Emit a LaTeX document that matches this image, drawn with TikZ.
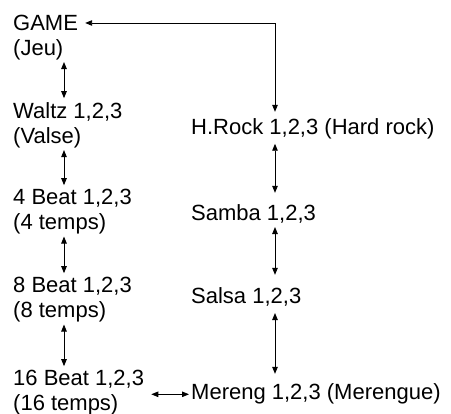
\documentclass[tikz,border=0pt]{standalone}
\usepackage{fontspec}
\setmainfont{Liberation Sans}
\usetikzlibrary{arrows.meta}

\begin{document}
\begin{tikzpicture}[x=1pt,y=1pt,
    dance/.style={inner sep=0pt,align=left,font=\fontsize{22}{25}\selectfont},
    link/.style={{Triangle[length=7pt,width=5.5pt]}-{Triangle[length=7pt,width=5.5pt]},line width=0.9pt}]
  \useasboundingbox (0,0) rectangle (451,414);
  \coordinate (lx) at (64,0);
  \coordinate (rx) at (275,0);
  \node[dance,anchor=north west] (game) at (13,399.3) {GAME\\(Jeu)};
  \node[dance,anchor=north west] (waltz) at (13,311.8) {Waltz 1,2,3\\(Valse)};
  \node[dance,anchor=north west] (four) at (13,224.8) {4 Beat 1,2,3\\(4 temps)};
  \node[dance,anchor=north west] (eight) at (13,136.8) {8 Beat 1,2,3\\(8 temps)};
  \node[dance,anchor=north west] (sixteen) at (13,43.8) {16 Beat 1,2,3\\(16 temps)};
  \node[dance,anchor=base west] (hrock) at (191,279) {H.Rock 1,2,3 (Hard rock)};
  \node[dance,anchor=base west] (samba) at (191,193) {Samba 1,2,3};
  \node[dance,anchor=base west] (salsa) at (191,110) {Salsa 1,2,3};
  \node[dance,anchor=base west] (mereng) at (191,14) {Mereng 1,2,3 (Merengue)};
  \draw[link,shorten <=2pt,shorten >=4pt] (game.south -| lx) -- (waltz.north -| lx);
  \draw[link,shorten <=2pt,shorten >=4pt] (waltz.south -| lx) -- (four.north -| lx);
  \draw[link,shorten <=2pt,shorten >=4pt] (four.south -| lx) -- (eight.north -| lx);
  \draw[link,shorten <=2pt,shorten >=4pt] (eight.south -| lx) -- (sixteen.north -| lx);
  \draw[link,shorten <=4pt,shorten >=12pt] (hrock.south -| rx) -- (samba.north -| rx);
  \draw[link,shorten <=3pt,shorten >=13pt] (samba.south -| rx) -- (salsa.north -| rx);
  \draw[link,shorten <=6pt,shorten >=10pt] (salsa.south -| rx) -- (mereng.north -| rx);
  \draw[link,shorten >=7pt] ([xshift=7pt,yshift=-8.3pt]game.north east) -| (hrock.north -| rx);
  \draw[link,shorten <=7pt,shorten >=2pt] (mereng.west -| sixteen.east) -- (mereng.west);
\end{tikzpicture}
\end{document}
